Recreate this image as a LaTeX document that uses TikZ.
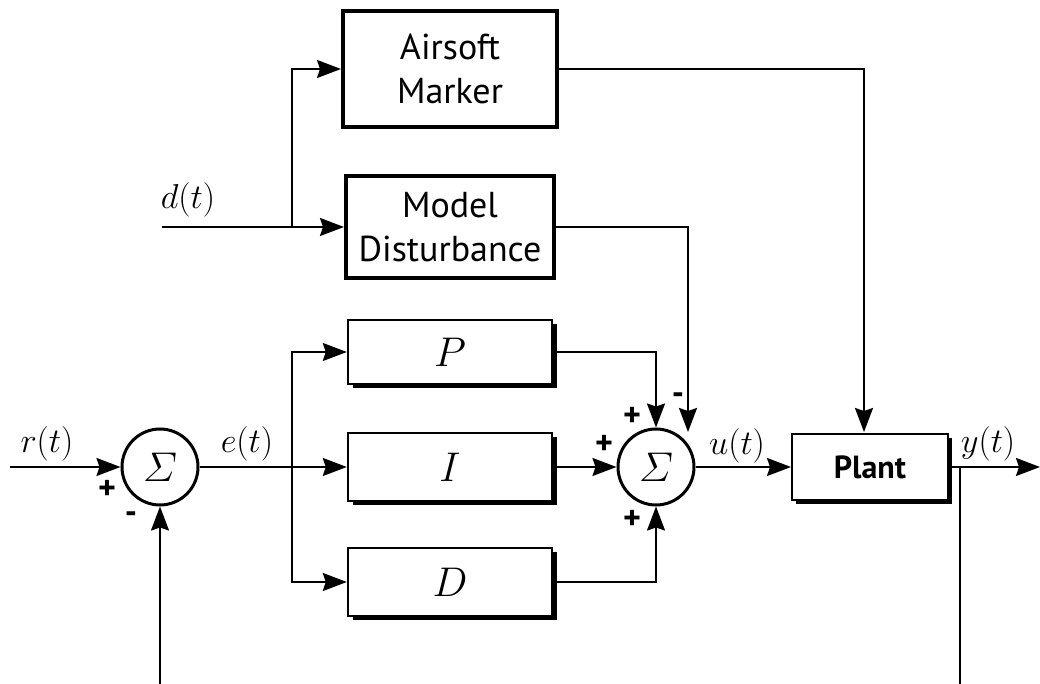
\documentclass[tikz,border=0pt]{standalone}
\usepackage{amsmath}
\usepackage{fontspec}
\setmainfont{PT Sans}
\usetikzlibrary{arrows.meta, positioning, calc, shadows}

\begin{document}
\begin{tikzpicture}[
    x=0.5pt, y=-0.5pt,
    block/.style={rectangle, draw, line width=2pt, fill=white, align=center, inner sep=2pt, font=\fontsize{18}{22}\selectfont},
    gain/.style={rectangle, draw, line width=1.2pt, fill=white, minimum width=102pt, minimum height=34pt, font=\fontsize{20}{20}\selectfont, drop shadow={shadow xshift=2.5pt, shadow yshift=-2pt, fill=black, opacity=1}},
    plantbox/.style={rectangle, draw, line width=1pt, fill=white, minimum width=78pt, minimum height=33pt, font=\bfseries\fontsize{16}{16}\selectfont, drop shadow={shadow xshift=2pt, shadow yshift=-2pt, fill=black, opacity=1}},
    sum/.style={circle, draw, line width=1.5pt, fill=white, minimum size=38pt, inner sep=0pt, font=\fontsize{22}{22}\selectfont},
    arrow/.style={-{Stealth[length=12pt, width=9pt, inset=1.5pt]}, line width=1pt},
    sig/.style={font=\fontsize{16.5}{16.5}\selectfont},
    sign/.style={font=\bfseries\fontsize{17}{17}\selectfont, inner sep=0pt}
]
\useasboundingbox (0,0) rectangle (1040,684);

% Nodes
\node[sum] (sumE) at (160,467) {$\varSigma$};
\node[gain, minimum height=32pt] (P) at (450,352) {$P$};
\node[gain] (I) at (450,467) {$I$};
\node[gain] (D) at (450,582) {$D$};
\node[sum] (sumU) at (656,467) {$\varSigma$};
\node[block, minimum width=104pt, minimum height=51pt] (dist) at (450,227) {Model\\Disturbance};
\node[block, minimum width=107pt, minimum height=58pt] (marker) at (450,69) {Airsoft\\Marker};
\node[plantbox] (plant) at (870,467) {Plant};

% Coordinates
\coordinate (rin) at (10,467);
\coordinate (din) at (162,227);
\coordinate (ebranch) at (292,467);
\coordinate (dbranch) at (292,227);
\coordinate (distin) at (688,432);
\coordinate (plantin) at (864,432);
\coordinate (ybranch) at (960,467);
\coordinate (yout) at (1040,467);
\coordinate (ybottom) at (960,684);
\coordinate (fbin) at (160,684);

% Labels
\node[sig] (rlabel) at (47,444) {$r(t)$};
\node[sig] (elabel) at (247,444) {$e(t)$};
\node[sig] (ulabel) at (737,446) {$u(t)$};
\node[sig] (ylabel) at (988,444) {$y(t)$};
\node[sig] (dlabel) at (188,200) {$d(t)$};

\node[sign] (plusR) at (107,490) {+};
\node[sign] (minusF) at (131,518) {-};
\node[sign] (plusP) at (632,417) {+};
\node[sign] (plusI) at (604,445) {+};
\node[sign] (plusD) at (632,520) {+};
\node[sign] (minusM) at (678,399) {-};

% Arrows
\draw[arrow] (rin) -- (sumE);
\draw[arrow] (sumE) -- (I);
\draw[arrow] (ebranch) |- (P);
\draw[arrow] (ebranch) |- (D);
\draw[arrow] (P) -| (sumU);
\draw[arrow] (I) -- (sumU);
\draw[arrow] (D) -| (sumU);
\draw[arrow] (sumU) -- (plant);
\draw[arrow] (plant) -- (yout);
\draw[line width=1pt] (ybranch) -- (ybottom);
\draw[arrow] (fbin) -- (sumE);

\draw[arrow] (din) -- (dist);
\draw[arrow] (dbranch) |- (marker);
\draw[arrow] (dist.east) -| (distin);
\draw[arrow] (marker) -| (plantin);

\end{tikzpicture}
\end{document}
